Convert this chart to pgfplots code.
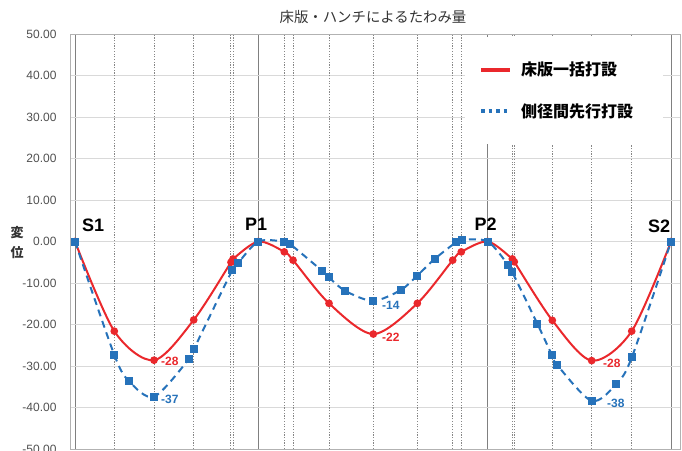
\documentclass[border=0pt]{standalone}
\usepackage{fontspec}
\setmainfont{Liberation Sans}
\newfontfamily\cjk{Noto Sans CJK JP}
\usepackage{pgfplots}
\pgfplotsset{compat=1.18}
\definecolor{cred}{RGB}{234,40,44}
\definecolor{cblue}{RGB}{38,114,186}
\definecolor{cgrid}{RGB}{217,217,217}
\definecolor{csup}{RGB}{128,128,128}
\definecolor{cdot}{RGB}{135,135,135}
\definecolor{ctext}{RGB}{80,80,80}
\begin{document}
\begin{tikzpicture}[x=1pt,y=1pt]
\begin{axis}[
  at={(70pt,1pt)}, anchor=south west,
  scale only axis, width=610pt, height=415pt,
  xmin=-1.0905, xmax=131.95, ymin=-50, ymax=50,
  ytick={-50,-40,...,50},
  /pgf/number format/fixed,
  /pgf/number format/fixed zerofill,
  /pgf/number format/precision=2,
  /pgf/number format/assume math mode=true,
  tick label style={font=\fontsize{12}{14}\selectfont, text=ctext},
  yticklabel style={xshift=-10pt},
  xtick={0,40,90,130}, xticklabels={},
  xmajorgrids, ymajorgrids,
  x grid style={csup, line width=1pt},
  y grid style={cgrid, line width=0.9pt},
  extra x ticks={8.57,17.23,25.89,34.02,34.46,45.65,47.55,55.40,65.06,74.66,82.38,84.25,95.38,95.81,104.10,112.69,121.42},
  extra x tick labels={},
  extra x tick style={x grid style={cdot, line width=1pt, dash pattern=on 1.2pt off 1.5pt}, major grid style={cdot, line width=1pt, dash pattern=on 1.2pt off 1.5pt}},
  major tick length=0pt,
  axis line style={draw=black!30, line width=1pt},
  legend style={at={(rel axis cs:0.6475,0.9928)}, anchor=north west, draw=none, fill=white,
    inner xsep=14pt, inner ysep=23pt, row sep=22pt, column sep=7pt,
    font=\cjk\bfseries\fontsize{16}{18}\selectfont},
  legend cell align=left,
  clip=false,
]
\addplot[cred, line width=2pt, smooth, mark=*, mark size=2.8pt,
  mark options={solid, fill=cred, draw=cred},
  legend image code/.code={\draw[cred, line width=4pt] (0pt,0pt) -- (29pt,0pt);}]
coordinates {(0,0) (8.57,-21.6) (17.23,-28.6) (25.89,-18.9) (34.02,-5.0) (34.46,-4.2) (40,0) (45.65,-2.5) (47.55,-4.5) (55.40,-14.9) (65.06,-22.3) (74.66,-14.9) (82.38,-4.5) (84.25,-2.5) (90,0) (95.38,-4.2) (95.81,-4.9) (104.10,-19.0) (112.69,-28.7) (121.42,-21.6) (130,0)};
\addlegendentry{床版一括打設}
\addplot[cblue, line width=2pt, dash pattern=on 7pt off 5pt, smooth, mark=square*, mark size=3pt,
  mark options={solid, fill=cblue, draw=cblue},
  legend image code/.code={\draw[cblue, line width=3.5pt, dash pattern=on 3.5pt off 4pt] (0pt,0pt) -- (29pt,0pt);}]
coordinates {(0,0) (8.57,-27.3) (11.84,-33.7) (17.23,-37.4) (24.80,-28.4) (25.89,-26.0) (34.31,-6.9) (35.49,-5.3) (40,0) (45.52,0) (46.89,-0.6) (53.81,-7.0) (55.33,-8.6) (58.95,-11.9) (65.0,-14.3) (71.04,-11.7) (74.66,-8.2) (78.45,-4.2) (83.10,-0.2) (84.41,0.4) (90,0) (94.50,-5.7) (95.38,-7.4) (100.83,-19.8) (104.04,-27.4) (105.19,-29.8) (112.69,-38.4) (118.06,-34.3) (121.48,-27.8) (130,0)};
\addlegendentry{側径間先行打設\hspace*{14pt}}
\node[font=\bfseries\fontsize{18}{20}\selectfont] at (axis cs:3.93,3.86) {S1};
\node[font=\bfseries\fontsize{18}{20}\selectfont] at (axis cs:39.48,4.2) {P1};
\node[font=\bfseries\fontsize{18}{20}\selectfont] at (axis cs:89.53,4.1) {P2};
\node[font=\bfseries\fontsize{18}{20}\selectfont] at (axis cs:127.37,3.7) {S2};
\node[anchor=west, inner sep=0pt, font=\bfseries\fontsize{12}{13}\selectfont, text=cred] at (axis cs:18.76,-29.0) {-28};
\node[anchor=west, inner sep=0pt, font=\bfseries\fontsize{12}{13}\selectfont, text=cblue] at (axis cs:18.76,-37.95) {-37};
\node[anchor=west, inner sep=0pt, font=\bfseries\fontsize{12}{13}\selectfont, text=cred] at (axis cs:66.96,-23.0) {-22};
\node[anchor=west, inner sep=0pt, font=\bfseries\fontsize{12}{13}\selectfont, text=cblue] at (axis cs:66.96,-15.3) {-14};
\node[anchor=west, inner sep=0pt, font=\bfseries\fontsize{12}{13}\selectfont, text=cred] at (axis cs:115.16,-29.3) {-28};
\node[anchor=west, inner sep=0pt, font=\bfseries\fontsize{12}{13}\selectfont, text=cblue] at (axis cs:116.03,-38.9) {-38};
\end{axis}
\node[font=\cjk\fontsize{14.4}{16}\selectfont, text=black!80] at (373,433) {床版・ハンチによるたわみ量};
\node[font=\cjk\bfseries\fontsize{13}{20}\selectfont, align=center, text=black!80] at (17,207) {変\\位};
\pgfresetboundingbox
\useasboundingbox (0,0) rectangle (682,450);
\end{tikzpicture}
\end{document}
